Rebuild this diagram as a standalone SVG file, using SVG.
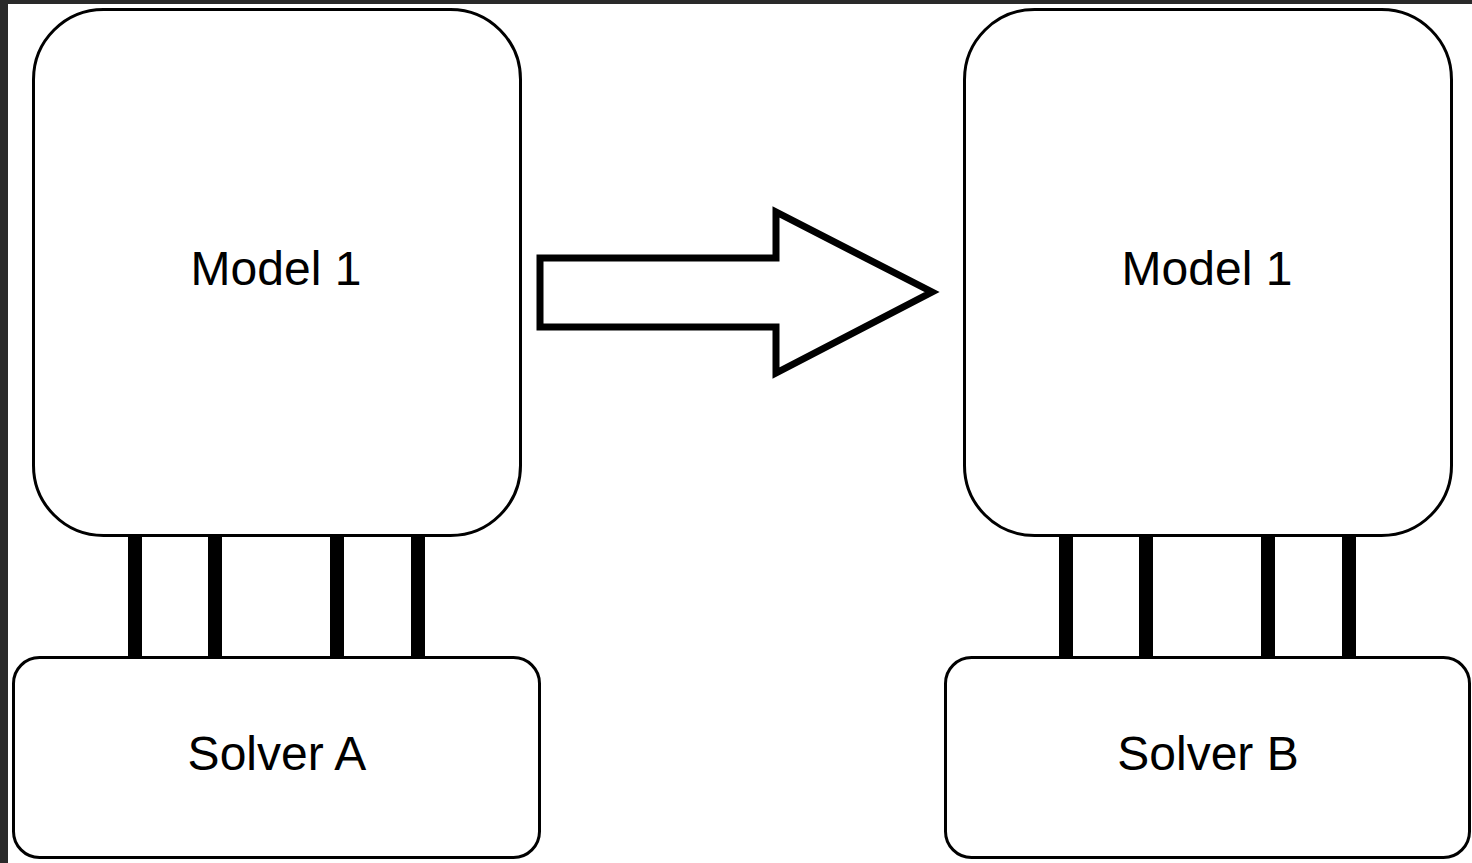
<svg xmlns="http://www.w3.org/2000/svg" width="1472" height="863" viewBox="0 0 1472 863">
<style>
.box{fill:#fff;stroke:#000;stroke-width:3}
.lbl{font-family:"Liberation Sans",Arial,sans-serif;font-size:48px;fill:#000;text-anchor:middle}
.bar{stroke:#000;stroke-width:14;fill:none}
</style>
<rect x="0" y="0" width="1472" height="863" fill="#fff"/>
<rect x="0" y="0" width="1472" height="4" fill="#2a2a2a"/>
<rect x="0" y="0" width="8" height="863" fill="#2a2a2a"/>
<g id="connectors">
<line class="bar" x1="135" y1="535" x2="135" y2="657"/>
<line class="bar" x1="215" y1="535" x2="215" y2="657"/>
<line class="bar" x1="337" y1="535" x2="337" y2="657"/>
<line class="bar" x1="418" y1="535" x2="418" y2="657"/>
<line class="bar" x1="1066" y1="535" x2="1066" y2="657"/>
<line class="bar" x1="1146" y1="535" x2="1146" y2="657"/>
<line class="bar" x1="1268" y1="535" x2="1268" y2="657"/>
<line class="bar" x1="1349" y1="535" x2="1349" y2="657"/>
</g>
<g id="model1-left">
<rect class="box" x="33.5" y="9.5" width="487" height="526" rx="70" ry="70"/>
<text class="lbl" x="276" y="285">Model 1</text>
</g>
<g id="model1-right">
<rect class="box" x="964.5" y="9.5" width="487" height="526" rx="70" ry="70"/>
<text class="lbl" x="1207" y="285">Model 1</text>
</g>
<g id="solverA">
<rect class="box" x="13.5" y="657.5" width="526" height="200" rx="26" ry="26"/>
<text class="lbl" x="277" y="770">Solver A</text>
</g>
<g id="solverB">
<rect class="box" x="945.5" y="657.5" width="524" height="200" rx="26" ry="26"/>
<text class="lbl" x="1208" y="770">Solver B</text>
</g>
<g id="arrow">
<polygon points="540,258 776,258 776,212 932,292 776,373 776,327 540,327" fill="#fff" stroke="#000" stroke-width="7" stroke-linejoin="miter"/>
</g>
</svg>
